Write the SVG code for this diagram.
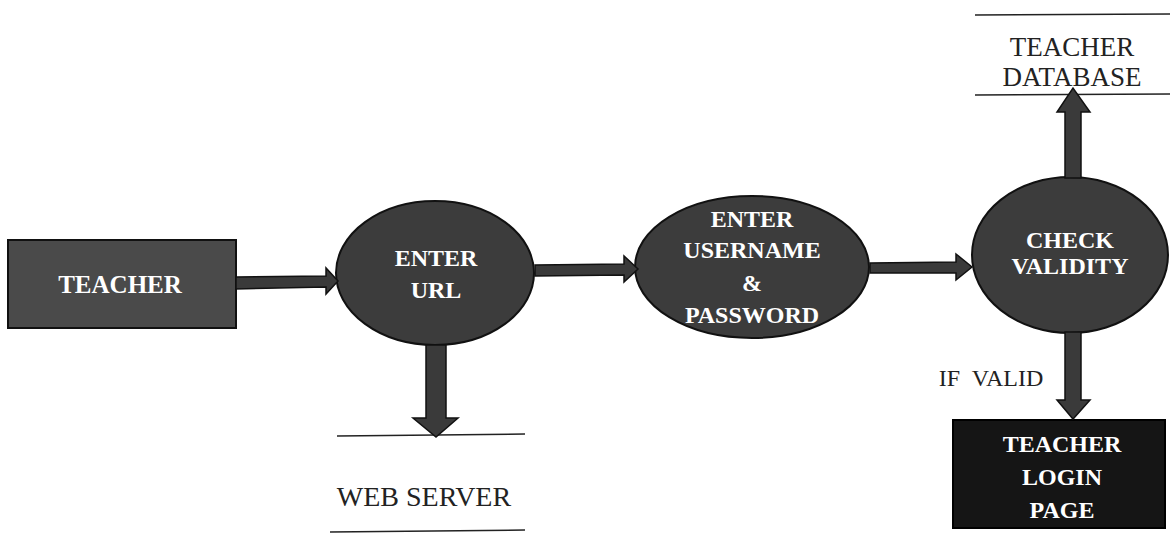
<svg xmlns="http://www.w3.org/2000/svg" width="1170" height="539" viewBox="0 0 1170 539">
<style>
.shape{fill:#3c3c3c;stroke:#111;stroke-width:2}
.box{fill:#4a4a4a;stroke:#111;stroke-width:2}
.dark{fill:#151515;stroke:#000;stroke-width:2}
.arrow{fill:#3a3a3a;stroke:#111;stroke-width:1.5}
.wt{font-family:"Liberation Serif",serif;font-weight:bold;font-size:24px;fill:#fff;text-anchor:middle}
.bt{font-family:"Liberation Serif",serif;font-size:27px;fill:#222;text-anchor:middle}
.line{stroke:#222;stroke-width:1.5}
</style>
<rect width="1170" height="539" fill="#fff"/>
<g id="teacher">
<rect class="box" x="8" y="240" width="228" height="88"/>
<text class="wt" x="120" y="293" style="font-size:25px">TEACHER</text>
</g>
<g id="enter-url">
<ellipse class="shape" cx="435" cy="273" rx="99" ry="72"/>
<text class="wt" x="436" y="266">ENTER</text>
<text class="wt" x="436" y="298">URL</text>
</g>
<g id="enter-credentials">
<ellipse class="shape" cx="752" cy="267" rx="117" ry="71"/>
<text class="wt" x="752" y="227">ENTER</text>
<text class="wt" x="752" y="258">USERNAME</text>
<text class="wt" x="752" y="291">&amp;</text>
<text class="wt" x="752" y="323">PASSWORD</text>
</g>
<g id="check-validity">
<ellipse class="shape" cx="1070" cy="255" rx="98" ry="78"/>
<text class="wt" x="1070" y="248">CHECK</text>
<text class="wt" x="1070" y="274">VALIDITY</text>
</g>
<g id="web-server">
<line class="line" x1="337" y1="436" x2="525" y2="434"/>
<line class="line" x1="330" y1="532" x2="525" y2="530"/>
<text class="bt" x="424" y="506" style="font-size:28px">WEB SERVER</text>
</g>
<g id="teacher-database">
<line class="line" x1="975" y1="15" x2="1170" y2="14"/>
<line class="line" x1="975" y1="95" x2="1170" y2="94"/>
<text class="bt" x="1072" y="56">TEACHER</text>
<text class="bt" x="1072" y="86">DATABASE</text>
</g>
<g id="teacher-login-page">
<rect class="dark" x="953" y="420" width="212" height="108"/>
<text class="wt" x="1062" y="452">TEACHER</text>
<text class="wt" x="1062" y="485">LOGIN</text>
<text class="wt" x="1062" y="518">PAGE</text>
</g>
<g id="connectors">
<polygon class="arrow" points="236,277 326,276 326,268 338,281 326,294 326,287 236,289"/>
<polygon class="arrow" points="535,265 624,264 624,256 638,269 624,282 624,275 535,276"/>
<polygon class="arrow" points="870,263 956,262 956,254 972,267 956,280 956,273 870,273"/>
<polygon class="arrow" points="426,345 446,345 446,418 458,418 436,437 413,418 426,418"/>
<polygon class="arrow" points="1065,178 1081,178 1081,112 1090,112 1073,88 1057,112 1065,112"/>
<polygon class="arrow" points="1065,332 1081,332 1081,400 1090,400 1073,419 1057,400 1065,400"/>
<text class="bt" x="991" y="386" style="font-size:24px" xml:space="preserve">IF  VALID</text>
</g>
</svg>
